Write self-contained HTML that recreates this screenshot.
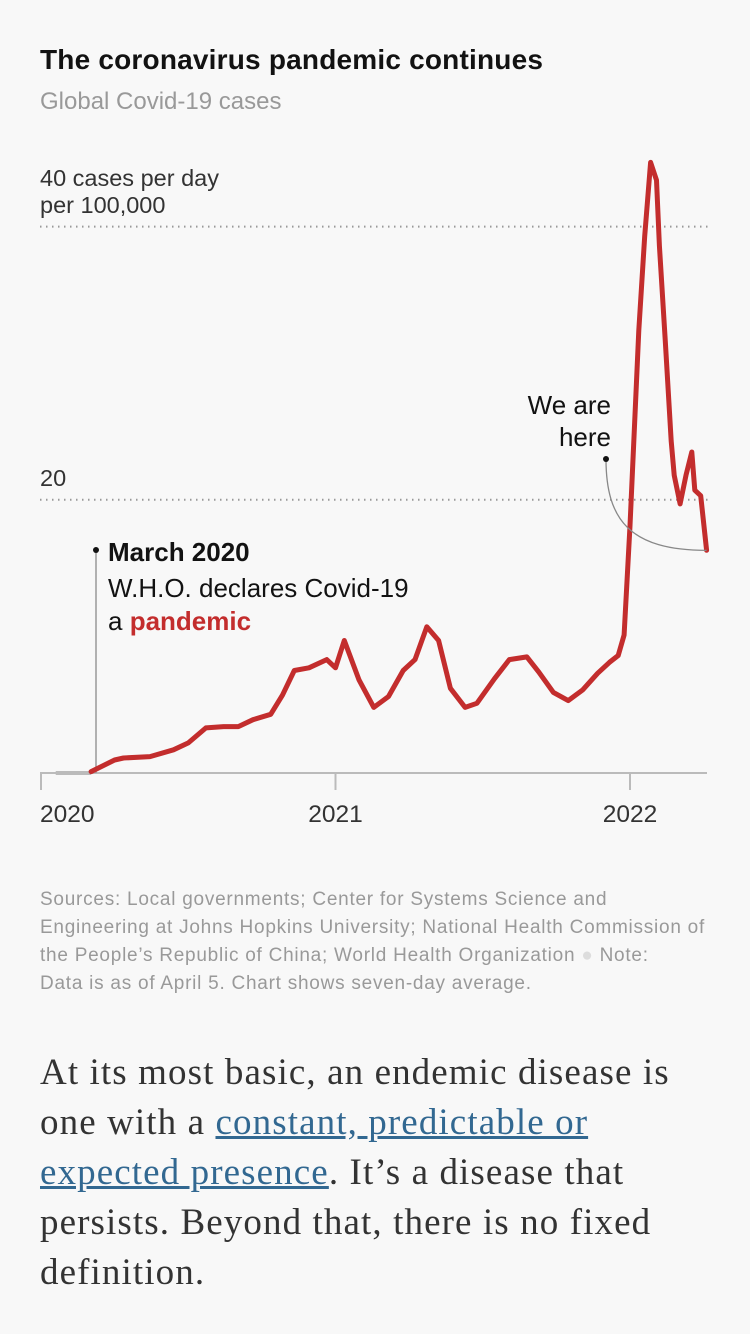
<!DOCTYPE html>
<html><head><meta charset="utf-8">
<style>
body{margin:0;width:750px;height:1334px;background:#f8f8f8;overflow:hidden;font-family:"Liberation Sans",sans-serif;position:relative}
.abs{position:absolute;margin:0}
</style></head><body>
<h1 class="abs" style="left:40px;top:44px;font-size:28px;font-weight:bold;color:#121212;letter-spacing:0.2px">The coronavirus pandemic continues</h1>
<div class="abs" style="left:40px;top:88px;font-size:24px;color:#999">Global Covid-19 cases</div>
<svg class="abs" style="left:0;top:0" width="750" height="860" id="chart"></svg>
<div class="abs" style="left:40px;top:886px;width:700px;font-size:19px;letter-spacing:0.75px;line-height:28px;color:#999;white-space:nowrap">Sources: Local governments; Center for Systems Science and<br>Engineering at Johns Hopkins University; National Health Commission of<br>the People’s Republic of China; World Health Organization <span style="color:#ddd">●</span> Note:<br>Data is as of April 5. Chart shows seven-day average.</div>
<p class="abs" style="left:40px;top:1048px;width:710px;font-family:'Liberation Serif',serif;font-size:37px;letter-spacing:1.1px;line-height:50px;color:#333;white-space:nowrap">At its most basic, an endemic disease is<br>one with a <a style="color:#326891;text-decoration:underline">constant, predictable or<br>expected presence</a>. It’s a disease that<br>persists. Beyond that, there is no fixed<br>definition.</p>
<script>
const dates=[2020.05,2020.17,2020.25,2020.28,2020.37,2020.45,2020.5,2020.56,2020.62,2020.67,2020.72,2020.78,2020.82,2020.86,2020.91,2020.97,2021.0,2021.03,2021.08,2021.13,2021.18,2021.23,2021.27,2021.31,2021.35,2021.39,2021.44,2021.48,2021.54,2021.59,2021.65,2021.69,2021.74,2021.79,2021.84,2021.89,2021.93,2021.96,2021.98,2022.0,2022.03,2022.05,2022.07,2022.09,2022.1,2022.12,2022.14,2022.15,2022.17,2022.19,2022.21,2022.22,2022.24,2022.26];
const cases=[0,0.1,0.95,1.1,1.2,1.7,2.2,3.3,3.4,3.4,3.9,4.3,5.7,7.5,7.7,8.3,7.7,9.7,6.8,4.8,5.6,7.5,8.3,10.7,9.7,6.2,4.8,5.1,6.9,8.3,8.5,7.4,5.9,5.3,6.1,7.3,8.1,8.6,10.1,18.1,32.4,39.3,44.7,43.4,38.6,31.6,24.3,21.8,19.7,21.8,23.5,20.7,20.3,16.3];
const yTicks=[20,40];
const xTicks=[2020,2021,2022];
const svg=document.getElementById('chart');
const NS='http://www.w3.org/2000/svg';
const x=d=>41+(d-2020)*294.5;
const y=v=>773-v*13.66;
function mk(t,a){const e=document.createElementNS(NS,t);for(const k in a)e.setAttribute(k,a[k]);svg.appendChild(e);return e;}
yTicks.forEach(v=>{
 const g=mk('line',{x1:40,x2:710,y1:y(v),y2:y(v),stroke:'#999','stroke-width':2,'stroke-dasharray':'1.5 4.5'});
 
 
});
const l1=mk('text',{x:40,y:186,'font-size':23.5,fill:'#333'});l1.textContent='40 cases per day';


const l2=mk('text',{x:40,y:213,'font-size':23.5,fill:'#333'});l2.textContent='per 100,000';


const l3=mk('text',{x:40,y:486,'font-size':23.5,fill:'#333'});l3.textContent='20';


const base=mk('line',{x1:40,x2:707,y1:773,y2:773,stroke:'#bbb','stroke-width':2});


xTicks.forEach(t=>{
 const tk=mk('line',{x1:x(t),x2:x(t),y1:773,y2:790,stroke:'#bbb','stroke-width':2});
 
 
 const tl=mk('text',{x:t===2020?40:x(t),y:822,'font-size':24.5,fill:'#333','text-anchor':t===2020?'start':'middle'});
 tl.textContent=t;
 
 
});
const ann=mk('line',{x1:96,x2:96,y1:550,y2:773,stroke:'#999','stroke-width':1.5});


const grayLine=mk('path',{d:`M${x(2020.05)},${y(0)}L${x(2020.17)},${y(0)}`,stroke:'#bbb','stroke-width':4,fill:'none'});


let d='';for(let i=1;i<dates.length;i++)d+=(i===1?'M':'L')+x(dates[i]).toFixed(1)+','+y(cases[i]).toFixed(1);
const line=mk('path',{d:d,stroke:'#c32d2d','stroke-width':5,fill:'none','stroke-linejoin':'round','stroke-linecap':'round'});


const dot1=mk('circle',{cx:96,cy:550,r:3,fill:'#121212'});


const t1=mk('text',{x:108,y:561,'font-size':26,'font-weight':'bold',fill:'#121212'});t1.textContent='March 2020';


const t2=mk('text',{x:108,y:597,'font-size':26,fill:'#121212'});t2.textContent='W.H.O. declares Covid-19';


const t3=mk('text',{x:108,y:630,'font-size':26,fill:'#121212'});t3.innerHTML='a <tspan font-weight="bold" fill="#c32d2d">pandemic</tspan>';


const lx=dates[dates.length-1], ly=cases[cases.length-1];
const cur=mk('path',{d:`M606,459 C606,520 630,${y(ly)} ${x(lx)},${y(ly)}`,stroke:'#888','stroke-width':1.3,fill:'none'});


const dot2=mk('circle',{cx:606,cy:459,r:3,fill:'#121212'});


const w1=mk('text',{x:611,y:414,'font-size':26,fill:'#121212','text-anchor':'end'});w1.textContent='We are';


const w2=mk('text',{x:611,y:446,'font-size':26,fill:'#121212','text-anchor':'end'});w2.textContent='here';


</script>
</body></html>
